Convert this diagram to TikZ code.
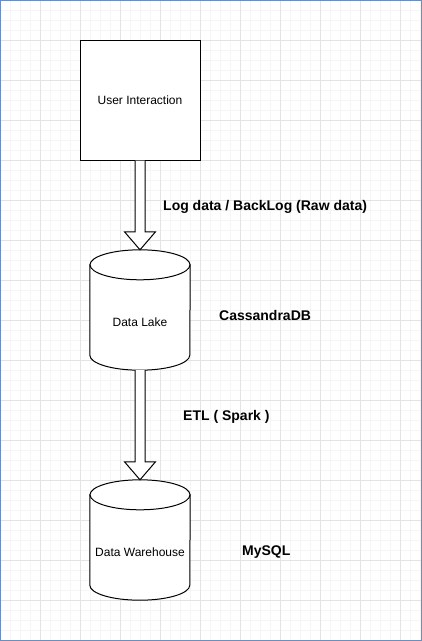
\documentclass[tikz,border=0pt]{standalone}
\usepackage{fontspec}
\setmainfont{Liberation Sans}
\usetikzlibrary{calc}
\definecolor{frameblue}{RGB}{108,142,191}
\tikzset{
  box/.style={draw=black,line width=1pt,fill=white,minimum width=120pt,minimum height=120pt,inner sep=0pt,font=\fontsize{12}{14}\selectfont},
  dbbox/.style={minimum width=100pt,minimum height=120pt,inner sep=0pt},
  dbline/.style={draw=black,line width=1pt,fill=white},
  dblabel/.style={anchor=base,inner sep=0pt,yshift=-16pt,font=\fontsize{12}{14}\selectfont},
  flex/.style={draw=black,line width=1pt,fill=white,line join=miter},
  boldlabel/.style={anchor=base west,inner sep=0pt,font=\fontsize{14}{16}\selectfont\bfseries},
}
\newcommand\drawcyl[1]{%
  \path[dbline] ($(#1.north west)+(0,15)$) -- ($(#1.south west)+(0,-15)$)
    arc[start angle=180,end angle=360,x radius=50pt,y radius=15pt]
    -- ($(#1.north east)+(0,15)$) -- cycle;
  \draw[dbline] ($(#1.north)+(0,15)$) ellipse[x radius=50pt,y radius=15pt];
}
\newcommand\flexarrow[2]{%
  \draw[flex] ($(#1)+(-5,0)$) -- ($(#2)+(-5,-18)$) -- ($(#2)+(-15.5,-18)$) -- (#2)
    -- ($(#2)+(15.5,-18)$) -- ($(#2)+(5,-18)$) -- ($(#1)+(5,0)$);
}
\begin{document}
\begin{tikzpicture}[x=1pt,y=-1pt]
\useasboundingbox (0,0) rectangle (422,641);
% grid
\foreach \i in {10,20,...,420} \draw[gray!8,line width=0.8pt] (\i,0) -- (\i,641);
\foreach \j in {10,20,...,640} \draw[gray!8,line width=0.8pt] (0,\j) -- (422,\j);
\foreach \i in {40,80,...,400} \draw[gray!22,line width=0.8pt] (\i,0) -- (\i,641);
\foreach \j in {40,80,...,640} \draw[gray!22,line width=0.8pt] (0,\j) -- (422,\j);
\draw[frameblue,line width=1.2pt] (0.6,0.6) rectangle (421.4,640.4);

% nodes
\node[box] (ui) at (140,100) {User Interaction};
\node[dbbox] (lake) at (140,310) {};
\node[dbbox] (wh) at (140,540) {};
\drawcyl{lake}
\drawcyl{wh}
\node[dblabel] (lakeT) at (lake.center) {Data Lake};
\node[dblabel] (whT) at (wh.center) {Data Warehouse};

% arrows
\flexarrow{ui.south}{lake.north}
\flexarrow{lake.south}{wh.north}

% labels
\node[boldlabel] (l1) at (163,210) {Log data / BackLog (Raw data)};
\node[boldlabel] (l2) at (183,420) {ETL ( Spark )};
\node[boldlabel] (l3) at (219,320) {CassandraDB};
\node[boldlabel] (l4) at (242,555) {MySQL};
\end{tikzpicture}
\end{document}
